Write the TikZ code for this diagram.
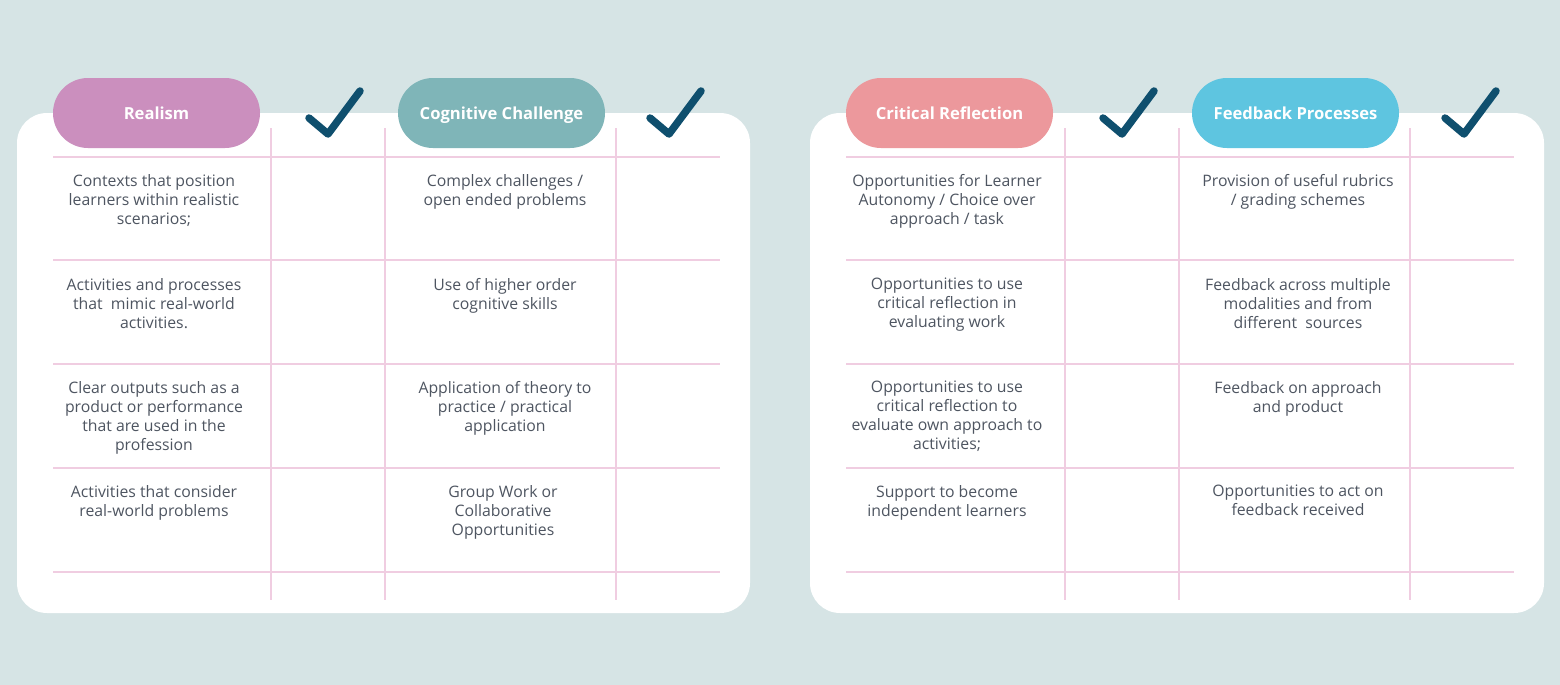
\documentclass[tikz,border=0pt]{standalone}
\usepackage{fontspec}
\setmainfont{Open Sans}
\definecolor{bgc}{HTML}{D6E4E5}
\definecolor{gridc}{HTML}{F0CDE1}
\definecolor{txtc}{HTML}{4E5561}
\definecolor{checkc}{HTML}{0F4F6E}
\definecolor{pinkc}{HTML}{CB8FBE}
\definecolor{tealc}{HTML}{7FB5B8}
\definecolor{salmonc}{HTML}{EC989C}
\definecolor{bluec}{HTML}{5EC5E0}
\tikzset{
  panel/.style={fill=white, rounded corners=30pt},
  pill/.style={rounded corners=35pt, minimum width=207pt, minimum height=70pt, text=white, font=\fontsize{16.6}{19}\selectfont\bfseries, inner sep=0pt, text height=14pt, text depth=2pt},
  gridline/.style={draw=gridc, line width=2.6pt},
  celltext/.style={anchor=north, align=center, text=txtc, font=\fontsize{15.8}{19}\selectfont, inner sep=0pt},
  checkmark/.style={draw=checkc, line width=7.5pt, line cap=round, line join=round}
}
\begin{document}
\begin{tikzpicture}[x=1pt,y=-1pt]
\fill[bgc] (0,0) rectangle (1560,685);
\useasboundingbox (0,0) rectangle (1560,685);
% panels
\fill[panel] (17,113) rectangle (750,613);
\fill[panel] (810,113) rectangle (1544,613);
% grid lines left
\foreach \y in {157,260,364,468,572} {\draw[gridline] (53,\y) -- (720,\y);}
\foreach \x in {271,385,616} {\draw[gridline] (\x,128) -- (\x,600);}
% grid lines right
\foreach \y in {157,260,364,468,572} {\draw[gridline] (846,\y) -- (1514,\y);}
\foreach \x in {1065,1179,1410} {\draw[gridline] (\x,128) -- (\x,600);}
% pills
\node[pill, fill=pinkc] (h1) at (156.5,113) {Realism};
\node[pill, fill=tealc] (h2) at (501.5,113) {Cognitive Challenge};
\node[pill, fill=salmonc] (h3) at (949.5,113) {Critical Reflection};
\node[pill, fill=bluec] (h4) at (1295.5,113) {Feedback Processes};
% checks
\foreach \cx in {328,669,1122,1464} {
  \draw[checkmark] (\cx-19,118) -- (\cx,134) -- (\cx+32,91);
}
% left column 1
\node[celltext] (a1) at (154,174) {Contexts that position\\learners within realistic\\scenarios;};
\node[celltext] (a2) at (154,278) {Activities and processes\\that\ \ mimic real-world\\activities.};
\node[celltext] (a3) at (154,381) {Clear outputs such as a\\product or performance\\that are used in the\\profession};
\node[celltext] (a4) at (154,485) {Activities that consider\\real-world problems};
% left column 2
\node[celltext] (b1) at (505,174) {Complex challenges /\\open ended problems};
\node[celltext] (b2) at (505,278) {Use of higher order\\cognitive skills};
\node[celltext] (b3) at (505,381) {Application of theory to\\practice / practical\\application};
\node[celltext] (b4) at (503,485) {Group Work or\\Collaborative\\Opportunities};
% right column 1
\node[celltext] (c1) at (947,174) {Opportunities for Learner\\Autonomy / Choice over\\approach / task};
\node[celltext] (c2) at (947,278) {Opportunities to use\\critical reflection in\\evaluating work};
\node[celltext] (c3) at (947,381) {Opportunities to use\\critical reflection to\\evaluate own approach to\\activities;};
\node[celltext] (c4) at (947,485) {Support to become\\independent learners};
% right column 2
\node[celltext] (d1) at (1298,174) {Provision of useful rubrics\\/ grading schemes};
\node[celltext] (d2) at (1298,278) {Feedback across multiple\\modalities and from\\different\ \ sources};
\node[celltext] (d3) at (1298,381) {Feedback on approach\\and product};
\node[celltext] (d4) at (1298,485) {Opportunities to act on\\feedback received};
\end{tikzpicture}
\end{document}
